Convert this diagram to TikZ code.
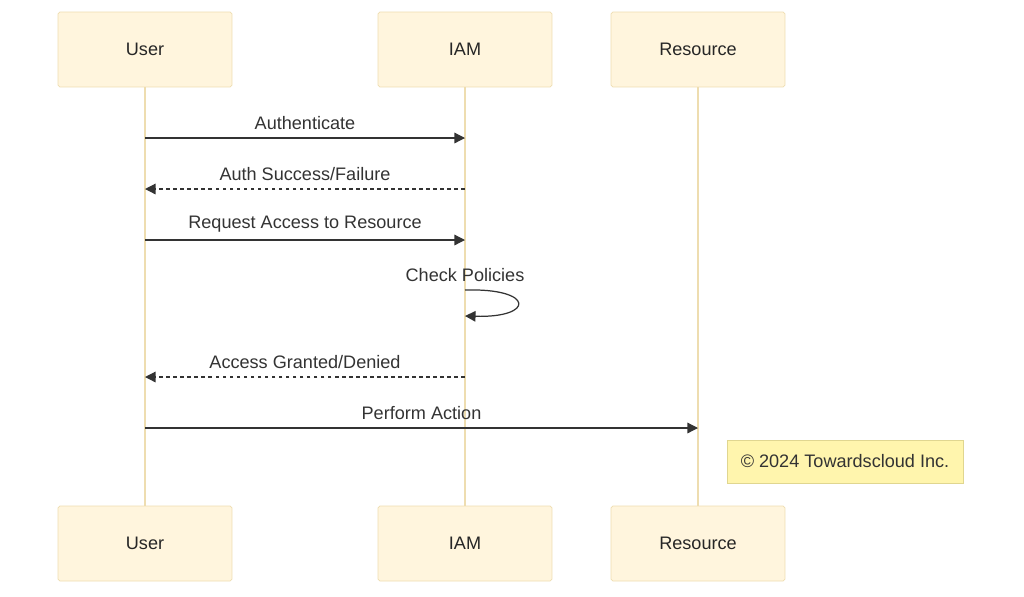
\documentclass[tikz,border=0pt]{standalone}
\usepackage{fontspec}
\setmainfont{Liberation Sans}
\usetikzlibrary{arrows.meta,positioning}
\definecolor{actfill}{HTML}{FFF5DD}
\definecolor{actline}{HTML}{EEDDB0}
\definecolor{notefill}{HTML}{FFF5AD}
\definecolor{noteline}{HTML}{E0D690}
\definecolor{msg}{HTML}{333333}
\begin{document}
\begin{tikzpicture}[x=0.02cm,y=-0.02cm,font=\fontsize{10.3}{12}\selectfont,
  actor/.style={draw=actline,fill=actfill,rounded corners=1pt,minimum width=3.48cm,minimum height=1.5cm,text=black!85},
  life/.style={draw=actline,line width=1.2pt},
  call/.style={draw=msg,line width=0.7pt,-{Triangle[length=6pt,width=6pt]}},
  reply/.style={call,dash pattern=on 2pt off 2pt},
  lbl/.style={text=msg,above=1pt}]
   \useasboundingbox (0,0) rectangle (1024,596);
   % actors
   \node[actor] (user_t) at (145,49.5) {User};
   \node[actor] (iam_t) at (465,49.5) {IAM};
   \node[actor] (res_t) at (698,49.5) {Resource};
   \node[actor] (user_b) at (145,543.5) {User};
   \node[actor] (iam_b) at (465,543.5) {IAM};
   \node[actor] (res_b) at (698,543.5) {Resource};
   \draw[life] (user_t) -- (user_b);
   \draw[life] (iam_t) -- (iam_b);
   \draw[life] (res_t) -- (res_b);
   % message points
   \coordinate (u1) at (145,138); \coordinate (i1) at (465,138);
   \coordinate (u2) at (145,189); \coordinate (i2) at (465,189);
   \coordinate (u3) at (145,240); \coordinate (i3) at (465,240);
   \coordinate (i4) at (465,290); \coordinate (i5) at (465,316);
   \coordinate (u6) at (145,377); \coordinate (i6) at (465,377);
   \coordinate (u7) at (145,428); \coordinate (r7) at (698,428);
   % messages
   \draw[call] (u1) -- node[lbl] {Authenticate} (i1);
   \draw[reply] (i2) -- node[lbl] {Auth Success/Failure} (u2);
   \draw[call] (u3) -- node[lbl] {Request Access to Resource} (i3);
   \draw[call] (i4) .. controls (535,288) and (535,318) .. (i5);
   \node[text=msg,above=1pt] at (i4) {Check Policies};
   \draw[reply] (i6) -- node[lbl] {Access Granted/Denied} (u6);
   \draw[call] (u7) -- node[lbl] {Perform Action} (r7);
   % note
   \node[draw=noteline,fill=notefill,minimum width=4.72cm,minimum height=0.86cm,text=msg] (note) at (845,461.5) {© 2024 Towardscloud Inc.};
\end{tikzpicture}
\end{document}
